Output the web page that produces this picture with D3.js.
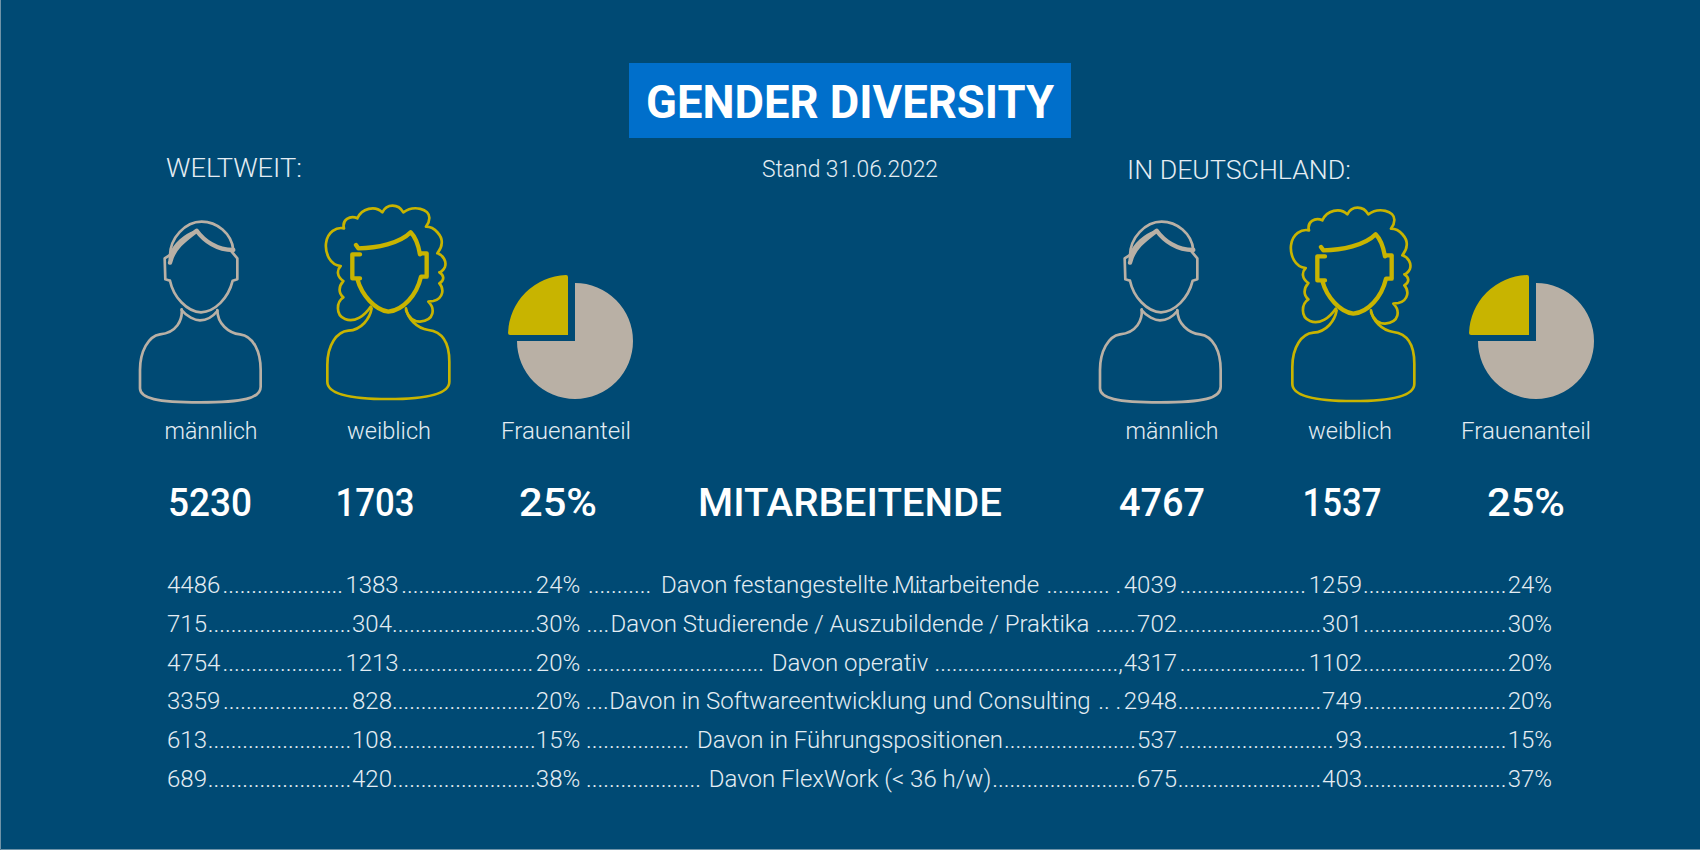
<!DOCTYPE html>
<html lang="de">
<head>
<meta charset="utf-8">
<title>Gender Diversity</title>
<script src="https://cdn.jsdelivr.net/npm/d3@7"></script>
<style>
  html, body { margin: 0; padding: 0; background: #004a74; }
  svg { display: block; }
  text { font-family: Roboto, "Open Sans", sans-serif; }
</style>
</head>
<body>
<svg id="chart" width="1700" height="850"></svg>
<script>
// ---- data ----
const COLUMNS = ['männlich', 'weiblich', 'Frauenanteil'];
const TOTALS_WORLD = ['5230', '1703', '25%'];
const TOTALS_DE = ['4767', '1537', '25%'];
const SHARE_WORLD = [25, 75];
const SHARE_DE = [25, 75];

const ROW_LABELS = [
  'Davon festangestellte Mitarbeitende',
  'Davon Studierende / Auszubildende / Praktika',
  'Davon operativ',
  'Davon in Softwareentwicklung und Consulting',
  'Davon in Führungspositionen',
  'Davon FlexWork (< 36 h/w)'
];
const WORLD_MALE = ['4486', '715', '4754', '3359', '613', '689'];
const WORLD_FEMALE = ['1383', '304', '1213', '828', '108', '420'];
const WORLD_PCT = ['24%', '30%', '20%', '20%', '15%', '38%'];
const DE_MALE = ['4039', '702', '4317', '2948', '537', '675'];
const DE_FEMALE = ['1259', '301', '1102', '749', '93', '403'];
const DE_PCT = ['24%', '30%', '20%', '20%', '15%', '37%'];

// ---- colours ----
const BG = '#004a74', BOX = '#006fcb', GREY = '#b9b0a5', YELLOW = '#c8b400', INK = '#e4edf3';

// icon outlines, drawn at 3x and scaled down
const MALE_ICON = {
  thin: [
    'M155,298 C158,330 140,368 90,373 C55,378 30,425 30,480 L30,535 C30,565 80,577 210,577 C340,577 392,565 392,530 L392,480 C392,425 370,378 330,373 C295,370 262,340 262,300',
    'M155,300 C170,320 195,331 210,331 C230,331 250,318 262,303',
    'M120,212 L106,208 L104,145 L118,136 M120,212 C130,260 170,305 213,307 C255,305 295,265 308,212 L322,208 L322,145 L305,125',
    'M120,150 C115,80 170,35 215,35 C260,35 305,70 310,120',
    'M120,135 C135,100 165,75 195,65'
  ],
  thick: ['M120,158 C130,115 160,92 200,62 C222,92 260,120 310,120']
};
const FEMALE_ICON = {
  thin: [
    'M152,335 C135,360 105,385 75,372 C45,360 50,320 70,307 C55,295 55,275 70,258 C50,245 50,225 62,213 C30,210 15,175 18,145 C22,110 50,95 72,100 C65,75 90,60 112,70 C125,40 165,30 187,52 C200,25 235,25 250,52 C280,30 330,40 328,70 C328,80 322,90 318,95 C345,95 368,125 365,145 C365,160 355,170 352,175 C370,180 380,200 375,215 C370,228 360,232 358,232 C372,240 375,255 358,265 C372,280 372,310 340,318 L325,320 C345,340 345,375 300,380 C280,380 265,365 258,345',
    'M155,340 C150,370 125,405 85,407 C50,410 22,450 22,510 L22,560 C22,600 100,612 205,612 C310,612 388,600 388,560 L388,500 C388,440 365,410 325,405 C290,400 262,370 258,340'
  ],
  thick: [
    'M120,178 L97,178 L97,250 L120,250 M112,252 C125,300 165,345 205,350 C250,345 290,300 303,245 L320,245 L320,175 L300,175',
    'M108,150 L115,160 C170,160 240,145 272,112 C285,125 295,150 300,178'
  ]
};

const svg = d3.select('#chart');
const WIDTH = 1700, HEIGHT = 850;

svg.append('rect').attr('width', WIDTH).attr('height', HEIGHT).attr('fill', BG);

// small helper, everything on this sheet is plain text
function label(text, x, y, size, weight, anchor, fill) {
  return svg.append('text')
    .attr('x', x).attr('y', y)
    .attr('font-size', size)
    .attr('font-weight', weight)
    .attr('text-anchor', anchor || 'middle')
    .attr('fill', fill || INK)
    .text(text);
}
// squeezes/stretches a text to the width it has in the layout
function fit(sel, w) {
  return sel.attr('textLength', w).attr('lengthAdjust', 'spacingAndGlyphs');
}

// title
svg.append('rect').attr('x', 629).attr('y', 63).attr('width', 442).attr('height', 75).attr('fill', BOX);
fit(label('GENDER DIVERSITY', 850, 118, 46, 700, 'middle', '#fff'), 408);
fit(label('Stand 31.06.2022', 850, 177, 23, 300), 176);

// region headings
fit(label('WELTWEIT:', 166, 177, 25, 300, 'start'), 136);
fit(label('IN DEUTSCHLAND:', 1127, 179, 25, 300, 'start'), 224);

// column positions for icons/totals
const xWorld = d3.scaleOrdinal().domain(COLUMNS).range([211, 389, 566]);
const xDe = d3.scaleOrdinal().domain(COLUMNS).range([1172, 1350, 1526]);
const xTotalWorld = d3.scaleOrdinal().domain(COLUMNS).range([210, 375, 558]);
const xTotalDe = d3.scaleOrdinal().domain(COLUMNS).range([1162, 1342, 1526]);

const LABEL_WIDTHS = [93, 84, 130];
const TOTAL_WIDTHS_WORLD = [84, 79, 78];
const TOTAL_WIDTHS_DE = [86, 79, 78];
COLUMNS.forEach((c, i) => {
  fit(label(c, xWorld(c), 439, 23, 300), LABEL_WIDTHS[i]);
  fit(label(c, xDe(c), 439, 23, 300), LABEL_WIDTHS[i]);
  fit(label(TOTALS_WORLD[i], xTotalWorld(c), 516, 38, 500, 'middle', '#fff'), TOTAL_WIDTHS_WORLD[i]);
  fit(label(TOTALS_DE[i], xTotalDe(c), 516, 38, 500, 'middle', '#fff'), TOTAL_WIDTHS_DE[i]);
});
fit(label('MITARBEITENDE', 850, 516, 38, 500, 'middle', '#fff'), 304);

// icons
function drawIcon(icon, color, dx, dy) {
  const g = svg.append('g')
    .attr('transform', `translate(${dx},${dy}) scale(${1 / 3})`)
    .attr('fill', 'none')
    .attr('stroke', color)
    .attr('stroke-linejoin', 'round')
    .attr('stroke-linecap', 'round');
  g.selectAll('path.thin').data(icon.thin).join('path')
    .attr('class', 'thin').attr('d', d => d).attr('stroke-width', 8);
  g.selectAll('path.thick').data(icon.thick).join('path')
    .attr('class', 'thick').attr('d', d => d).attr('stroke-width', 13);
}
drawIcon(MALE_ICON, GREY, 130, 210);
drawIcon(FEMALE_ICON, YELLOW, 320, 195);
drawIcon(MALE_ICON, GREY, 1090, 210);
drawIcon(FEMALE_ICON, YELLOW, 1285, 197);

// pies: the female slice is pulled out towards the top left
const pie = d3.pie().sort(null).startAngle(-Math.PI / 2).endAngle(1.5 * Math.PI);
const arcFemale = d3.arc().innerRadius(0).outerRadius(60).cornerRadius(2);
const arcMale = d3.arc().innerRadius(0).outerRadius(58);
function drawPie(values, cx, cy) {
  const arcs = pie(values);
  svg.append('path').attr('transform', `translate(${cx},${cy})`).attr('d', arcMale(arcs[1])).attr('fill', GREY);
  svg.append('path').attr('transform', `translate(${cx - 7},${cy - 6})`).attr('d', arcFemale(arcs[0])).attr('fill', YELLOW);
}
drawPie(SHARE_WORLD, 575, 341);
drawPie(SHARE_DE, 1536, 341);

// table rows with dot leaders, leaders get measured so they fill the gaps
const yRow = d3.scalePoint().domain(ROW_LABELS).range([593, 787]);
const ROW_FONT = 24;

const dotProbe = label('..........', 0, -50, ROW_FONT, 300);
const dotWidth = dotProbe.node().getComputedTextLength() / 10;
dotProbe.remove();

ROW_LABELS.forEach((name, i) => {
  const y = yRow(name);
  const cells = [
    label(WORLD_MALE[i], 167, y, ROW_FONT, 300, 'start'),
    label(WORLD_FEMALE[i], 372, y, ROW_FONT, 300, 'middle'),
    label(WORLD_PCT[i], 558, y, ROW_FONT, 300, 'middle'),
    label(name, 850, y, ROW_FONT, 300, 'middle'),
    label(DE_MALE[i], 1177, y, ROW_FONT, 300, 'end'),
    label(DE_FEMALE[i], 1362, y, ROW_FONT, 300, 'end'),
    label(DE_PCT[i], 1552, y, ROW_FONT, 300, 'end')
  ];
  const boxes = cells.map(c => c.node().getBBox());
  d3.pairs(boxes).forEach(([a, b], k) => {
    // the gaps next to the middle label are looser on some rows
    const padL = k === 2 ? 5 : k === 3 && i < 4 ? 5 : 0;
    const padR = k === 2 ? (i === 1 || i === 3 ? 0 : 7) : 0;
    const from = a.x + a.width + padL, to = b.x - padR;
    const n = Math.max(0, Math.floor((to - from) / dotWidth));
    let dots = '.'.repeat(n);
    if (k === 3 && i === 2) dots = dots.slice(0, -1) + ',';          // komma steht so im original
    if (k === 3 && (i === 0 || i === 3)) dots = dots.slice(0, -2) + '\u00a0.';
    label(dots, (from + to) / 2, y, ROW_FONT, 300, 'middle');
  });

  // stray specks that sit on the first row's label in the original
  if (i === 0) {
    const node = cells[3].node();
    [name.indexOf('M'), name.indexOf('M') + 1, name.indexOf('tarb'), name.indexOf('rbeit')].forEach(ci => {
      const p = node.getStartPositionOfChar(ci);
      svg.append('circle').attr('cx', p.x).attr('cy', y - 1).attr('r', 1.2).attr('fill', INK);
    });
  }
});

// thin light edge on the left and bottom of the sheet
svg.append('path').attr('d', `M0.5,0 V${HEIGHT - 0.5} H${WIDTH}`).attr('fill', 'none').attr('stroke', '#6f93a8').attr('stroke-width', 1);
</script>
</body>
</html>
